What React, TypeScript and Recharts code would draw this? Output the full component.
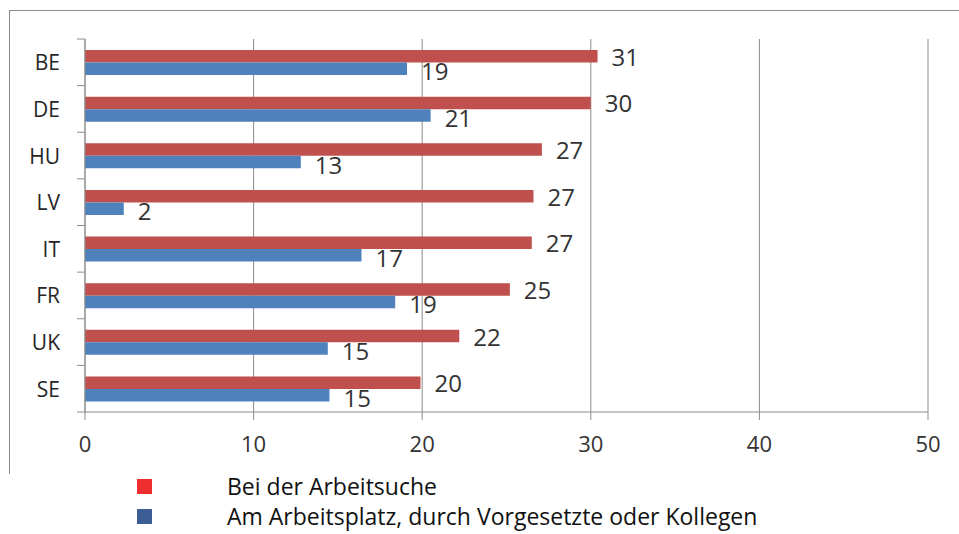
import React from 'react'
import { BarChart, Bar, XAxis, YAxis, CartesianGrid, LabelList } from 'recharts'

const countries = ['BE', 'DE', 'HU', 'LV', 'IT', 'FR', 'UK', 'SE']
// bar lengths
const jobSearch = [30.4, 30.0, 27.1, 26.6, 26.5, 25.2, 22.2, 19.9]
const atWork = [19.1, 20.5, 12.8, 2.3, 16.4, 18.4, 14.4, 14.5]
// printed value labels
const jobSearchLabels = ['31', '30', '27', '27', '27', '25', '22', '20']
const atWorkLabels = ['19', '21', '13', '2', '17', '19', '15', '15']
const xTicks = [0, 10, 20, 30, 40, 50]
const seriesNames = ['Bei der Arbeitsuche', 'Am Arbeitsplatz, durch Vorgesetzte oder Kollegen']
const legendColors = ['#ee2e2e', '#3d5e94']

const data = countries.map((c, i) => ({
  country: c,
  jobSearch: jobSearch[i],
  atWork: atWork[i],
  jobSearchLabel: jobSearchLabels[i],
  atWorkLabel: atWorkLabels[i],
}))

const FONT = '"Open Sans", sans-serif'
const TOP = 39
const PLOT_H = 373
const X_AXIS_H = 50
const BAND = PLOT_H / countries.length
const GRID = '#8c8c8c'

const CountryTick = (props: any) => {
  const { x, y, payload, index } = props
  const last = index === countries.length - 1
  return (
    <g>
      <line x1={x} x2={x + 8} y1={y - BAND / 2} y2={y - BAND / 2} stroke={GRID} />
      {last && <line x1={x} x2={x + 8} y1={y + BAND / 2} y2={y + BAND / 2} stroke={GRID} />}
      <text x={x - 17} y={y} textAnchor="end" dominantBaseline="central" fontSize={21} fill="#262626" fontFamily={FONT}>
        {payload.value}
      </text>
    </g>
  )
}

export default function App() {
  return (
    <div style={{ position: 'absolute', left: 0, top: 0, width: 959, height: 534, background: '#fff' }}>
      <div style={{ position: 'absolute', left: 9, top: 10, width: 950, height: 463, borderTop: '1px solid #8a8a8a', borderLeft: '1px solid #8a8a8a' }} />
      <div style={{ position: 'absolute', left: 0, top: 0 }}>
        <BarChart
          width={959}
          height={TOP + PLOT_H + X_AXIS_H}
          data={data}
          layout="vertical"
          barGap={0}
          barSize={12.5}
          margin={{ top: TOP, right: 31, bottom: 0, left: 10 }}
        >
          <CartesianGrid horizontal={false} stroke={GRID} />
          <XAxis
            type="number"
            domain={[0, 50]}
            ticks={xTicks}
            interval={0}
            height={X_AXIS_H}
            stroke={GRID}
            tickSize={8}
            tickMargin={16}
            tick={{ fontSize: 22, fill: '#333', fontFamily: FONT }}
          />
          <YAxis
            type="category"
            dataKey="country"
            width={75}
            stroke={GRID}
            tickLine={false}
            tick={<CountryTick />}
            interval={0}
          />
          <Bar dataKey="jobSearch" fill="#c0504d" isAnimationActive={false}>
            <LabelList dataKey="jobSearchLabel" position="right" offset={14} fontSize={24} fill="#333" fontFamily={FONT} dy={1} />
          </Bar>
          <Bar dataKey="atWork" fill="#4f81bd" isAnimationActive={false}>
            <LabelList dataKey="atWorkLabel" position="right" offset={14} fontSize={24} fill="#333" fontFamily={FONT} dy={3} />
          </Bar>
        </BarChart>
      </div>
      <div style={{ position: 'absolute', left: 137, top: 471, fontFamily: FONT, fontSize: 23, color: '#111' }}>
        {seriesNames.map((n, i) => (
          <div key={n} style={{ display: 'flex', alignItems: 'center', height: 30 }}>
            <span style={{ width: 15, height: 15, background: legendColors[i], display: 'inline-block' }} />
            <span style={{ marginLeft: 75, whiteSpace: 'nowrap' }}>{n}</span>
          </div>
        ))}
      </div>
    </div>
  )
}
